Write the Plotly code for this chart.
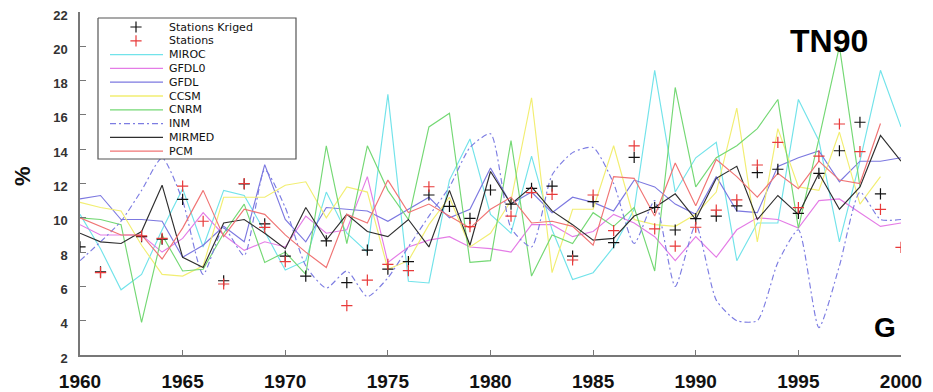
import plotly.graph_objects as go

years = list(range(1960, 2001))

miroc = [10.2, 8.2, 5.8, 6.7, 9.3, 11.7, 8.3, 11.6, 11.3, 9.2,
         6.95, 7.5, 11.5, 9.1, 8.0, 17.2, 6.3, 6.2, 12.2, 14.6,
         10.2, 9.1, 13.6, 9.3, 6.4, 6.8, 8.3, 10.5, 18.6, 11.5,
         13.5, 14.4, 7.5, 9.7, 9.7, 16.9, 14.5, 8.6, 13.3, 18.6,
         15.3]
gfdl0 = [9.6, 9.0, 9.0, 9.0, 8.0, 8.8, 10.3, 9.0, 8.1, 8.6,
         8.3, 10.1, 9.1, 9.3, 12.4, 7.4, 8.3, 8.7, 8.9, 8.3,
         8.2, 8.0, 9.6, 9.6, 8.9, 9.2, 10.2, 9.7, 8.9, 7.5,
         8.9, 7.7, 9.3, 10.0, 9.9, 9.4, 11.0, 11.1, 10.3, 9.5,
         9.7]
gfdl = [11.1, 11.3, 9.9, 9.9, 9.8, 7.7, 8.4, 9.5, 8.6, 13.1,
        9.9, 8.6, 10.6, 10.5, 10.4, 9.8, 10.5, 11.2, 10.0, 10.5,
        12.9, 10.8, 11.5, 10.3, 11.2, 10.9, 10.4, 12.2, 11.8, 10.8,
        10.2, 12.4, 10.4, 10.3, 13.0, 13.5, 13.9, 12.1, 13.3, 13.3,
        13.5]
ccsm = [10.9, 10.6, 10.4, 8.4, 6.7, 6.6, 7.2, 11.2, 11.2, 11.2,
        11.9, 12.1, 10.0, 11.8, 11.5, 7.0, 7.5, 9.6, 11.2, 8.3,
        9.1, 11.0, 17.0, 6.8, 10.5, 10.5, 14.2, 9.9, 9.6, 9.5,
        10.2, 11.5, 16.4, 8.6, 15.2, 11.8, 11.6, 15.0, 10.8, 12.4,
        None]
cnrm = [10.0, 9.9, 9.6, 3.9, 9.0, 6.9, 7.0, 9.1, 10.8, 7.4,
        8.0, 6.7, 14.2, 8.5, 14.2, 11.6, 9.9, 15.3, 16.1, 7.4,
        7.5, 14.5, 6.6, 9.0, 8.5, 10.3, 9.5, 10.6, 6.9, 17.6,
        11.8, 13.5, 14.2, 15.2, 16.9, 9.4, 14.6, 20.0, 11.8, None,
        None]
inm = [7.5, 8.6, 9.8, 11.6, 13.5, 11.0, 6.7, 9.4, 7.8, 12.8,
       10.6, 7.2, 5.9, 6.9, 5.4, 6.5, 8.3, 10.1, 11.8, 14.1,
       14.9, 9.4, 8.3, 12.5, 13.8, 14.1, 12.0, 8.5, 11.0, 6.0,
       9.6, 5.2, 4.0, 4.0, 7.4, 9.3, 3.6, 7.2, 11.5, 9.9,
       9.9]
mirmed = [9.1, 8.6, 8.5, 9.2, 11.9, 7.7, 7.1, 9.7, 9.9, 9.1,
          8.2, 10.6, 8.7, 10.2, 9.2, 8.9, 9.9, 8.3, 11.6, 8.4,
          12.7, 10.8, 11.8, 10.4, 9.6, 8.7, 8.8, 10.1, 10.6, 11.4,
          9.9, 12.3, 13.0, 9.9, 11.3, 10.2, 12.6, 10.5, 11.8, 14.8,
          13.3]
pcm = [10.0, 9.5, 9.0, 9.0, 7.6, 9.4, 11.6, 8.9, 10.5, 10.2,
       9.0, 8.0, 7.1, 10.2, 9.7, 12.2, 10.3, 10.8, 10.1, 9.4,
       10.5, 11.2, 9.7, 9.8, 9.5, 8.4, 12.4, 12.3, 10.1, 13.2,
       10.7, 13.4, 12.4, 11.2, 12.6, 11.7, 13.3, 12.2, 12.0, 15.5,
       None]
stations_kriged = [8.3, 6.85, None, 8.9, 8.75, 11.07, None, 6.33, 11.97, 9.64,
                   7.77, 6.6, 8.65, 6.22, 8.12, 7.01, 7.44, 11.33, 10.67, 9.97,
                   11.62, 10.8, 11.72, 11.85, 7.77, 10.94, 8.55, 13.52, 10.6, 9.29,
                   9.95, 10.1, 10.69, 12.63, 12.83, 10.26, 12.59, 13.91, 15.57, 11.39,
                   None]
stations = [None, 6.8, None, 8.95, 8.8, 11.85, 9.8, 6.14, 12.0, 9.44,
            7.44, None, None, 4.88, 6.37, 7.28, 6.92, 11.81, None, 9.48,
            None, 10.1, 11.47, 11.37, 7.54, 11.33, 9.25, 14.19, 9.35, 8.35,
            9.45, 10.45, 11.04, 13.08, 14.4, 10.59, 13.6, 15.47, 13.86, 10.49,
            8.28]

x_ticks = [1960, 1965, 1970, 1975, 1980, 1985, 1990, 1995, 2000]
y_ticks = [2, 4, 6, 8, 10, 12, 14, 16, 18, 20, 22]

model_names = ["MIROC", "GFDL0", "GFDL", "CCSM", "CNRM", "INM", "MIRMED", "PCM"]
model_data = [miroc, gfdl0, gfdl, ccsm, cnrm, inm, mirmed, pcm]
model_colors = ["#72e3ea", "#e47ce6", "#7c78e0", "#f2ee72", "#74d874", "#7c7ce2", "#2e2e2e", "#f07474"]
model_dash = ["solid", "solid", "solid", "solid", "solid", "6px,3px,2px,3px", "solid", "solid"]
model_shape = ["linear", "linear", "linear", "linear", "linear", "spline", "linear", "linear"]

marker_names = ["Stations Kriged", "Stations"]
marker_data = [stations_kriged, stations]
marker_colors = ["#111111", "#e83a3a"]

FONT = "Liberation Sans, Arial, sans-serif"
LEGFONT = "DejaVu Sans, Liberation Sans, Arial, sans-serif"

# Page body has an 8px default margin: the figure origin sits at window (8, 8).
OFF = 8
WIN_W, WIN_H = 933, 392
W, H = WIN_W - OFF, WIN_H - OFF
# desired plot area in window pixels
PX0, PX1, PY0, PY1 = 80, 901, 12, 355
L, R = PX0 - OFF, W - (PX1 - OFF)
T, B = PY0 - OFF, H - (PY1 - OFF)

fig = go.Figure()

for name, data, col, dash, shp in zip(model_names, model_data, model_colors, model_dash, model_shape):
    fig.add_trace(go.Scatter(x=years, y=data, mode="lines", name=name,
                             line=dict(color=col, width=1.15, dash=dash, shape=shp, smoothing=0.6),
                             showlegend=False, connectgaps=False))

for name, data, col in zip(marker_names, marker_data, marker_colors):
    fig.add_trace(go.Scatter(x=years, y=data, mode="markers", name=name,
                             marker=dict(symbol="cross-thin", size=8,
                                         line=dict(color=col, width=1.2)),
                             showlegend=False))

# ---- custom legend drawn in window-pixel space on an overlay axis ----
box = dict(x0=98, x1=296, y0=18, y1=159)
row0, row_gap = 27, 13.8
sx0, sx1, smid, tx = 110, 163, 136, 168

fig.add_trace(go.Scatter(
    x=[box["x0"], box["x1"], box["x1"], box["x0"], box["x0"]],
    y=[box["y0"], box["y0"], box["y1"], box["y1"], box["y0"]],
    mode="lines", fill="toself", fillcolor="white",
    line=dict(color="#555555", width=1.2),
    xaxis="x2", yaxis="y2", showlegend=False, hoverinfo="skip"))

leg_names = marker_names + model_names
annotations = []
for i, name in enumerate(leg_names):
    ry = row0 + i * row_gap
    if i < 2:
        fig.add_trace(go.Scatter(x=[smid], y=[ry], mode="markers",
                                 marker=dict(symbol="cross-thin", size=8,
                                             line=dict(color=marker_colors[i], width=1.2)),
                                 xaxis="x2", yaxis="y2", showlegend=False, hoverinfo="skip"))
    else:
        j = i - 2
        fig.add_trace(go.Scatter(x=[sx0, sx1], y=[ry, ry], mode="lines",
                                 line=dict(color=model_colors[j], width=1.3, dash=model_dash[j]),
                                 xaxis="x2", yaxis="y2", showlegend=False, hoverinfo="skip"))
    annotations.append(dict(x=tx, y=ry, xref="x2", yref="y2", text=name, showarrow=False,
                            xanchor="left", yanchor="middle", borderpad=0,
                            font=dict(family=LEGFONT, size=11, color="#111111")))

def px(xp):
    return (xp - PX0) / (PX1 - PX0)

def py(yp):
    return (PY1 - yp) / (PY1 - PY0)

annotations += [
    dict(x=px(22), y=py(176), xref="paper", yref="paper", text="<b>%</b>", showarrow=False,
         xanchor="center", yanchor="middle",
         textangle=-90, font=dict(family=FONT, size=22, color="#111")),
    dict(x=px(829), y=py(41), xref="paper", yref="paper", text="<b>TN90</b>", showarrow=False,
         xanchor="center", yanchor="middle",
         font=dict(family=FONT, size=32, color="#000")),
    dict(x=px(885), y=py(327), xref="paper", yref="paper", text="<b>G</b>", showarrow=False,
         xanchor="center", yanchor="middle",
         font=dict(family=FONT, size=28, color="#000")),
]

fig.update_layout(
    width=W, height=H, autosize=False,
    margin=dict(l=L, r=R, t=T, b=B, pad=0),
    paper_bgcolor="white", plot_bgcolor="white",
    showlegend=False,
    annotations=annotations,
    xaxis=dict(range=[1960, 2000], tickvals=x_ticks, ticktext=[str(v) for v in x_ticks],
               showgrid=False, zeroline=False, showline=True, linecolor="#777", linewidth=1.5,
               ticks="inside", ticklen=5, tickcolor="#777", tickwidth=1.2,
               tickfont=dict(family=FONT, size=19, color="#111", weight="bold"),
               ticklabelstandoff=8, automargin=False, ticklabeloverflow="allow"),
    yaxis=dict(range=[2, 22], tickvals=y_ticks, showgrid=False, zeroline=False,
               showline=True, linecolor="#777", linewidth=1.5,
               ticks="inside", ticklen=6, tickcolor="#777", tickwidth=1.2,
               tickfont=dict(family=FONT, size=13, color="#333", weight="bold"),
               ticklabelstandoff=8, ticklabelshift=3,
               automargin=False, ticklabeloverflow="allow"),
    xaxis2=dict(overlaying="x", range=[PX0, PX1], visible=False, fixedrange=True, automargin=False),
    yaxis2=dict(overlaying="y", range=[PY1, PY0], visible=False, fixedrange=True, automargin=False),
)

fig.write_html("out.html")
